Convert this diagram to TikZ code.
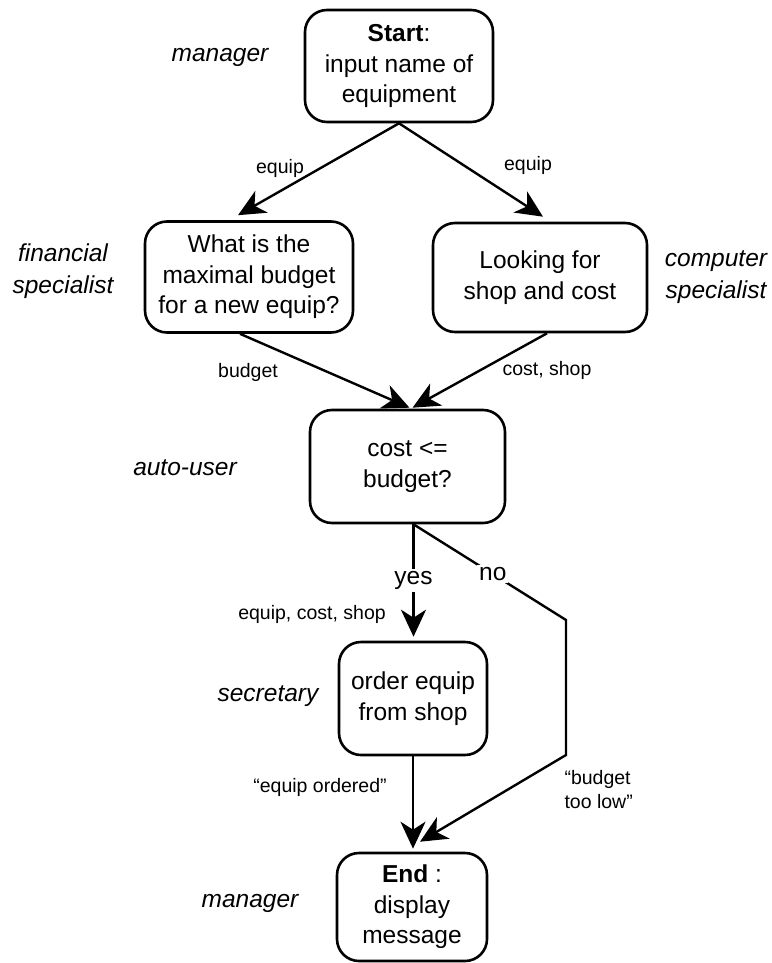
\documentclass[tikz,border=0pt]{standalone}
\usepackage{fontspec}
\setmainfont{Liberation Sans}
\usetikzlibrary{arrows.meta}
\begin{document}
\begin{tikzpicture}[x=1pt,y=-1pt,
 box/.style={draw, line width=2.6pt, rounded corners=22pt, align=center, font=\fontsize{24.5}{30.5}\selectfont, inner sep=0pt},
 role/.style={align=center, font=\fontsize{24.5}{32}\selectfont\itshape},
 lab/.style={align=center, font=\fontsize{19.5}{24}\selectfont},
 biglab/.style={font=\fontsize{24.5}{28}\selectfont, fill=white, inner sep=2pt},
 arr/.style={line width=2.4pt, -{Stealth[length=27pt,width=25pt,inset=8pt]}},
 ln/.style={line width=2.4pt}]
\useasboundingbox (0,0) rectangle (771,963);
% boxes
\node[box, minimum width=188pt, minimum height=112pt] (start) at (399,66) {\textbf{Start}:\\input name of\\equipment};
\node[box, minimum width=208pt, minimum height=111pt] (fin) at (249,277) {What is the\\maximal budget\\for a new equip?};
\node[box, minimum width=214pt, minimum height=109pt] (comp) at (540,277.5) {Looking for\\shop and cost};
\node[box, minimum width=195pt, minimum height=113pt] (cost) at (407.5,466.5) {cost <=\\budget?};
\node[box, minimum width=148pt, minimum height=113pt] (order) at (413,698.5) {order equip\\from shop};
\node[box, minimum width=150pt, minimum height=108pt] (end) at (412,907) {\textbf{End} :\\display\\message};
% roles
\node[role] (r1) at (220,57) {manager};
\node[role] (r2) at (63,271) {financial\\specialist};
\node[role] (r3) at (716,277) {computer\\specialist};
\node[role] (r4) at (185,468) {auto-user};
\node[role] (r5) at (268,696) {secretary};
\node[role] (r6) at (250,903) {manager};
% connectors
\draw[arr] (start.south) -- ([xshift=-11pt,yshift=5pt]fin.north);
\draw[arr] (start.south) -- ([xshift=3pt,yshift=5pt]comp.north);
\draw[arr] ([xshift=-9pt]fin.south) -- ([xshift=2pt,yshift=1pt]cost.north);
\draw[arr] ([xshift=7pt]comp.south) -- ([xshift=5pt,yshift=1pt]cost.north);
\coordinate (c1) at ([xshift=6pt]cost.south);
\coordinate (c2) at (c1 |- order.north);
\draw[arr] (c1) -- ([yshift=4pt]c2) node[biglab, pos=0.5] {yes};
\coordinate (n3) at (566,620);
\coordinate (n4) at (566,755);
\draw[arr] (c1) -- (n3) node[biglab, pos=0.52] {no} -- (n4) -- ([xshift=8pt,yshift=10pt]end.north);
\coordinate (e1) at (order.south |- end.north);
\draw[arr] (order.south) -- ([yshift=3pt]e1);
% edge labels
\node[lab] (eqL) at (280,168) {equip};
\node[lab] (eqR) at (528,165) {equip};
\node[lab] (bud) at (248,372) {budget};
\node[lab] (cs) at (547,370) {cost, shop};
\node[lab] (ecs) at (312,614) {equip, cost, shop};
\node[lab] (eo) at (320,787) {“equip ordered”};
\node[lab, align=left, anchor=west] (btl) at (561,790) {“budget\\too low”};
\end{tikzpicture}
\end{document}
